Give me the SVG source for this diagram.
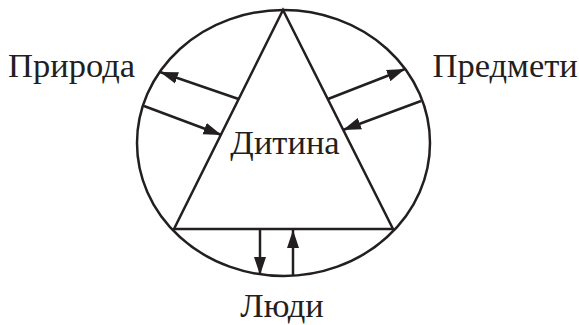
<svg xmlns="http://www.w3.org/2000/svg" width="579" height="325" viewBox="0 0 579 325">
<style>
.s{fill:none;stroke:#231f20;stroke-width:2.5}
.t{font-family:"Liberation Serif",serif;font-size:34.5px;fill:#231f20}
</style>
<defs>
<marker id="ah" markerUnits="userSpaceOnUse" markerWidth="20" markerHeight="14" viewBox="0 0 20 14" refX="18" refY="7" orient="auto">
<path d="M0,1 L18,7 L0,13 Z" fill="#231f20"/>
</marker>
</defs>
<rect width="579" height="325" fill="#fff"/>
<g id="circle"><ellipse class="s" cx="283.5" cy="143" rx="146.5" ry="133"/></g>
<g id="child"><polygon class="s" points="283,10 174,229 393,229" stroke-linejoin="miter"/><text class="t" x="285" y="154" text-anchor="middle">Дитина</text></g>
<g id="nature"><text class="t" x="8" y="77">Природа</text></g>
<g id="objects"><text class="t" x="432.5" y="77">Предмети</text></g>
<g id="people"><text class="t" x="282" y="316.5" text-anchor="middle">Люди</text></g>
<g id="connectors" class="s" marker-end="url(#ah)">
<line x1="238.5" y1="99" x2="160" y2="72"/>
<line x1="144" y1="106" x2="221.5" y2="135"/>
<line x1="328" y1="99" x2="405" y2="69"/>
<line x1="421" y1="101" x2="343" y2="130"/>
<line x1="260" y1="229" x2="260" y2="275"/>
<line x1="293" y1="276" x2="293" y2="230"/>
</g>
</svg>
